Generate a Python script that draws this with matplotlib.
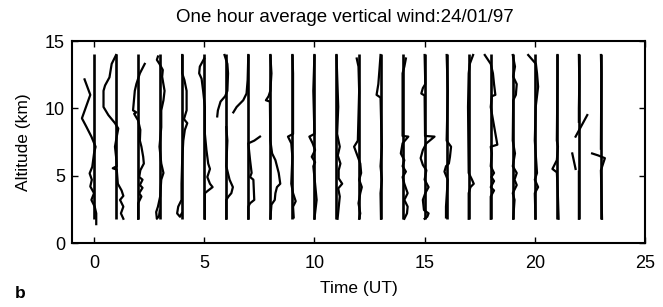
import numpy as np
import matplotlib
matplotlib.use("Agg")
import matplotlib.pyplot as plt

plt.rcParams['font.family'] = ['Liberation Sans', 'DejaVu Sans']

hours = list(range(24))
ref_bottom = 1.8
ref_top = 14.0

nan = float('nan')
# per-hour profiles: altitude (km) and offset from hour line (hours)
alt_00 = [12.15, 11.0, 9.26, 8.64, 7.9, 7.15, 6.65, 5.66, 5.17, 4.7, 4.2, 3.7, 3.2, 2.7, 2.2, 1.4]
off_00 = [-0.43, -0.17, -0.55, -0.35, -0.12, 0.07, 0.0, -0.08, -0.2, -0.1, -0.17, 0.0, -0.12, 0.03, 0.1, 0.1]
alt_01 = [13.96, 13.3, 12.3, 11.7, 11.3, 10.1, 9.5, 8.9, 8.5, 7.9, 7.15, 6.4, 5.7, 5.55, 5.45, 4.4, 3.9, 3.5, 3.2, 2.7, 2.2, 1.8]
off_01 = [0.0, -0.2, -0.3, -0.5, -0.57, -0.57, -0.35, -0.05, 0.1, 0.03, -0.05, 0.0, 0.03, -0.15, 0.03, 0.08, 0.25, 0.33, 0.18, 0.33, 0.22, 0.33]
alt_02 = [13.3, 12.6, 11.8, 11.3, 9.85, 9.7, 9.6, 9.1, 8.4, 7.6, 7.15, 6.4, 5.9, 5.4, 4.9, 4.7, 4.3, 4.1, 3.7, 3.45, 2.95, 1.8]
off_02 = [0.3, 0.08, -0.08, -0.15, -0.23, -0.08, -0.18, 0.0, 0.1, 0.08, 0.15, 0.23, 0.26, 0.1, 0.05, 0.2, 0.08, 0.2, 0.05, 0.15, 0.0, 0.0]
alt_03 = [13.85, 13.6, 13.3, 12.85, 12.35, 11.3, 10.6, 9.85, 8.6, 7.15, 5.9, 5.2, 4.7, 3.45, 2.7, 2.3, 1.8, 2.0, 2.4]
off_03 = [-0.1, -0.15, -0.03, 0.12, 0.09, 0.2, 0.15, 0.05, 0.05, -0.03, 0.05, 0.15, 0.05, 0.0, -0.1, -0.18, -0.15, -0.05, -0.02]
alt_04 = [13.96, 12.6, 12.1, 11.3, 9.85, 9.2, 8.9, 8.4, 7.6, 6.15, 4.4, 3.2, 2.7, 2.2, 1.95, 2.2]
off_04 = [0.0, 0.0, 0.1, 0.2, 0.2, 0.08, 0.23, 0.12, 0.05, 0.0, -0.03, -0.03, -0.18, -0.23, -0.1, -0.02]
alt_05 = [13.7, 13.1, 12.6, 12.2, 11.3, 10.1, 8.1, 6.9, 5.9, 5.5, 4.9, 4.4, 4.15, 3.9, 3.7, 1.8]
off_05 = [0.0, -0.2, -0.23, -0.12, -0.05, 0.03, 0.03, 0.1, 0.18, 0.26, 0.14, 0.26, 0.38, 0.18, 0.03, 0.03]
alt_06 = [13.96, 13.3, 12.6, 11.3, 10.9, 10.5, 9.85, 9.4, nan, 8.6, 7.6, 5.7, 4.7, 4.15, 3.7, 3.45, 3.2, 1.8]
off_06 = [-0.08, 0.05, 0.08, 0.05, -0.05, -0.26, -0.38, -0.41, nan, 0.0, 0.05, 0.0, 0.15, 0.3, 0.23, 0.1, 0.0, 0.0]
alt_07 = [13.96, 12.1, 11.1, 10.6, 10.1, 9.7, nan, 7.9, 7.6, 7.4, 6.15, 5.2, 4.9, 4.7, 3.2, 2.95, 2.7, 1.8]
off_07 = [0.0, -0.03, -0.08, -0.23, -0.53, -0.68, nan, 0.53, 0.27, 0.0, 0.08, 0.15, 0.08, 0.23, 0.27, 0.08, 0.0, 0.0]
alt_08 = [13.96, 12.6, 11.3, 10.9, 10.6, 10.5, 7.6, 6.65, 6.15, 5.2, 4.4, 4.15, 3.7, 3.2, 2.85, 1.8]
off_08 = [0.0, 0.05, 0.0, -0.08, -0.2, -0.02, 0.0, 0.08, 0.23, 0.38, 0.45, 0.3, 0.23, 0.2, 0.05, 0.0]
alt_09 = [13.96, 12.6, 8.1, 7.9, 7.4, 6.4, 4.4, 3.7, 3.1, 2.7, 1.9]
off_09 = [0.0, 0.03, 0.03, -0.2, -0.05, 0.0, -0.05, 0.03, 0.15, 0.03, 0.06]
alt_10 = [13.96, 11.3, 8.1, 7.9, 7.4, 6.9, 6.4, 6.0, 5.7, 4.4, 3.2, 1.8]
off_10 = [0.0, -0.05, 0.0, -0.23, -0.08, 0.03, -0.12, 0.03, -0.05, 0.03, 0.1, 0.0]
alt_11 = [13.96, 10.1, 8.1, 7.15, 6.5, 5.9, 5.4, 4.8, 4.4, 4.05, 3.45, 1.8]
off_11 = [0.0, 0.08, 0.03, 0.15, 0.06, 0.18, 0.1, 0.1, 0.26, 0.08, 0.15, 0.05]
alt_12 = [13.7, 13.1, 11.3, 7.6, 7.15, 6.4, 5.9, 5.2, 4.7, 4.15, 3.7, 2.95, 2.2, 1.8]
off_12 = [-0.08, 0.0, 0.03, -0.03, -0.2, -0.03, 0.08, 0.12, 0.03, 0.15, 0.08, 0.0, 0.08, 0.03]
alt_13 = [13.96, 12.85, 11.8, 11.0, 10.8, 8.8, 7.15, 5.7, 4.7, 3.7, 1.8]
off_13 = [0.0, -0.05, -0.1, -0.18, 0.0, 0.03, 0.06, 0.0, 0.06, 0.0, 0.02]
alt_14 = [13.7, 13.1, 12.6, 7.95, 7.9, 7.4, 6.65, 6.15, 5.7, 5.3, 4.9, 4.4, 3.7, 3.2, 2.7, 2.2, 1.8]
off_14 = [0.15, 0.08, 0.0, 0.0, 0.26, 0.0, -0.08, 0.08, 0.0, 0.15, 0.0, 0.08, 0.23, 0.08, 0.23, 0.2, 0.08]
alt_15 = [13.96, 11.8, 11.5, 11.1, 10.95, 7.95, 7.9, 7.4, 6.9, 6.3, 5.8, 5.4, 4.7, 4.15, 3.7, 3.2, 2.45, 2.2, 1.95, 1.8]
off_15 = [0.0, 0.03, -0.08, -0.15, 0.0, 0.02, 0.45, 0.08, -0.08, -0.18, -0.08, 0.08, 0.0, 0.18, 0.03, -0.08, -0.03, 0.18, 0.12, 0.0]
alt_16 = [13.96, 11.3, 7.6, 7.15, 6.4, 5.9, 5.7, 5.3, 4.7, 2.7, 1.9]
off_16 = [0.0, 0.05, 0.0, 0.2, 0.15, 0.1, -0.03, -0.1, 0.05, -0.03, -0.03]
alt_17 = [13.96, 13.3, 12.6, 10.1, 5.2, 4.7, 4.4, 4.15, 3.7, 1.8]
off_17 = [0.2, 0.05, 0.0, -0.03, 0.0, 0.15, 0.23, 0.08, 0.0, 0.0]
alt_18 = [13.96, 13.3, 12.6, 11.8, 11.0, 10.9, 10.1, 7.3, 7.15, 6.65, 5.7, 5.2, 4.9, 4.6, 4.15, 3.9, 3.45, 1.8]
off_18 = [-0.27, 0.0, 0.1, 0.15, 0.21, 0.05, 0.0, 0.3, 0.0, 0.05, 0.0, 0.15, 0.03, 0.15, 0.0, 0.15, 0.0, 0.0]
alt_19 = [13.96, 13.1, 12.35, 11.8, 11.0, 10.6, 7.6, 6.65, 5.7, 5.2, 4.7, 4.3, 3.7, 3.2, 1.8]
off_19 = [0.0, 0.1, 0.02, 0.18, 0.14, 0.02, 0.0, 0.1, 0.0, 0.18, 0.08, 0.18, 0.0, 0.08, 0.02]
alt_20 = [13.96, 13.3, 12.6, 11.6, 10.1, 7.6, 5.2, 4.7, 4.15, 3.7, 1.8]
off_20 = [-0.3, 0.05, 0.1, 0.15, 0.04, 0.0, 0.1, 0.0, 0.15, 0.0, 0.03]
alt_21 = [13.96, 12.6, 7.6, 7.15, 6.15, 5.5, 5.25, 3.9, 1.8]
off_21 = [0.03, 0.03, 0.0, 0.05, 0.0, -0.2, 0.0, 0.04, 0.08]
alt_22 = [13.96, 12.0, 10.0, 9.0, nan, 9.5, 7.9, nan, 6.65, 5.5, nan, 5.3, 3.0, 1.8]
off_22 = [0.0, 0.02, 0.0, 0.0, nan, 0.38, -0.15, nan, -0.3, -0.15, nan, 0.0, 0.0, 0.0]
alt_23 = [13.96, 12.6, 7.6, 7.0, nan, 6.65, 6.5, 6.3, 5.9, 5.4, 1.8]
off_23 = [0.0, 0.02, 0.0, 0.0, nan, -0.4, -0.12, 0.18, 0.1, 0.0, 0.05]

profile_alts = [alt_00, alt_01, alt_02, alt_03, alt_04, alt_05, alt_06, alt_07,
                alt_08, alt_09, alt_10, alt_11, alt_12, alt_13, alt_14, alt_15,
                alt_16, alt_17, alt_18, alt_19, alt_20, alt_21, alt_22, alt_23]
profile_offs = [off_00, off_01, off_02, off_03, off_04, off_05, off_06, off_07,
                off_08, off_09, off_10, off_11, off_12, off_13, off_14, off_15,
                off_16, off_17, off_18, off_19, off_20, off_21, off_22, off_23]

xticks = [0, 5, 10, 15, 20, 25]
yticks = [0, 5, 10, 15]

fig = plt.figure(figsize=(6.63, 3.07), dpi=100)
ax = fig.add_axes([72/663, (307-243)/307, (645-72)/663, (243-41)/307])

for h, a, o in zip(hours, profile_alts, profile_offs):
    ax.plot([h, h], [ref_bottom, ref_top], color='black', lw=1.9, solid_capstyle='butt')
    ax.plot(h + np.array(o, dtype=float), np.array(a, dtype=float), color='black', lw=1.6)

ax.set_xlim(-1, 25)
ax.set_ylim(0, 15)
ax.set_xticks(xticks)
ax.set_yticks(yticks)
ax.tick_params(direction='in', top=True, right=True, length=4, width=1.0,
               labelsize=13)
ax.tick_params(axis='x', pad=9)
ax.tick_params(axis='y', pad=5)
for s in ax.spines.values():
    s.set_linewidth(1.5)

ax.set_xlabel('Time (UT)', fontsize=12.5, labelpad=6)
ax.set_ylabel('Altitude (km)', fontsize=12.5, labelpad=10)
fig.text(0.52, 0.943, 'One hour average vertical wind:24/01/97', fontsize=13.5,
         ha='center', va='center')
fig.text(15/663, 1 - 293/307, 'b', fontsize=12.5, fontweight='bold', ha='left', va='center')

fig.savefig('out.png', dpi=100)
